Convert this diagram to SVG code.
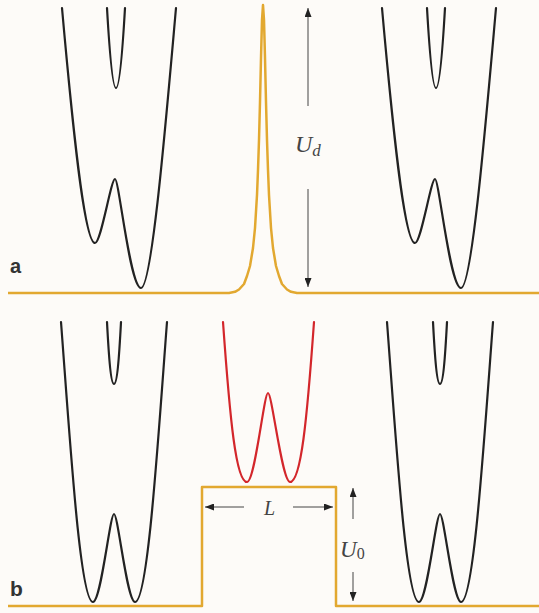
<svg xmlns="http://www.w3.org/2000/svg" width="539" height="613" viewBox="0 0 539 613">
<style>
.bg{fill:#fdfbf8}
.pot{fill:none;stroke:#222;stroke-width:2.2;stroke-linejoin:round;stroke-linecap:round}
.red{fill:none;stroke:#d3262b;stroke-width:2.2;stroke-linejoin:round;stroke-linecap:round}
.gold{fill:none;stroke:#e2a830;stroke-width:2.5;stroke-linejoin:round}
.arr{stroke:#444;stroke-width:1;fill:none}
.lab{font-family:"Liberation Serif",serif;font-style:italic;fill:#444}
.pl{font-family:"Liberation Sans",Arial,sans-serif;font-weight:bold;fill:#333}
</style>
<defs>
<marker id="ah" markerUnits="userSpaceOnUse" markerWidth="9" markerHeight="7" refX="9" refY="3.5" orient="auto">
<path d="M0,0 L9,3.5 L0,7 z" fill="#222"/>
</marker>
<path id="wellA" d="M62,8 C72,120 84,243 95,243 C101,243 111,179 115,179 C119,179 130,288 141,288 C152,288 166,120 176,8 M107,8 C110,60 113,88 116,88 C119,88 122,60 125,8"/>
<path id="wellB" d="M61,322 C70,440 80,602 93,602 C101,602 110,514 114,514 C118,514 127,602 135,602 C148,602 158,440 167,322 M107,322 C109,360 111,384 114,384 C117,384 119,360 121,322"/>
</defs>
<rect class="bg" x="0" y="0" width="539" height="613"/>

<g id="panel-a-left-potential"><use href="#wellA" class="pot"/></g>
<g id="panel-a-right-potential"><use href="#wellA" class="pot" transform="translate(320,0)"/></g>
<g id="panel-a-barrier">
<path class="gold" d="M8,293 L229,293 L235,291.8 L239,289.5 L244,284 L247,276 L250,266 L253,248 L255,228 L257,195 L258,170 L259,140 L260,102 L261,58 L262,20 L263,5 L264,20 L265,58 L266,102 L267,140 L268,170 L269,195 L271,228 L273,248 L276,266 L279,276 L282,284 L287,289.5 L291,291.8 L297,293 L539,293"/>
</g>
<g id="panel-b-left-potential"><use href="#wellB" class="pot"/></g>
<g id="panel-b-right-potential"><use href="#wellB" class="pot" transform="translate(326,0)"/></g>
<g id="panel-b-middle-potential">
<path class="red" d="M223,322 C230,420 236,482 247,482 C255,482 264,393 268,393 C272,393 282,482 290,482 C301,482 307,420 314,322"/>
</g>
<g id="panel-b-barrier">
<path class="gold" d="M8,606 L202,606 L202,487 L336,487 L336,606 L539,606"/>
</g>

<g id="connectors">
<line class="arr" x1="308" y1="106" x2="308" y2="8" marker-end="url(#ah)"/>
<line class="arr" x1="308" y1="189" x2="308" y2="287" marker-end="url(#ah)"/>
<line class="arr" x1="244" y1="507" x2="205" y2="507" marker-end="url(#ah)"/>
<line class="arr" x1="293" y1="507" x2="333" y2="507" marker-end="url(#ah)"/>
<line class="arr" x1="353" y1="519" x2="353" y2="488" marker-end="url(#ah)"/>
<line class="arr" x1="353" y1="572" x2="353" y2="601" marker-end="url(#ah)"/>
</g>

<g id="labels">
<text class="lab" x="295" y="152" font-size="24">U<tspan font-size="17" dy="4">d</tspan></text>
<text class="lab" x="264" y="515" font-size="20">L</text>
<text class="lab" x="340" y="557" font-size="23">U<tspan font-size="16" font-style="normal" dy="2">0</tspan></text>
<text class="pl" x="10" y="273" font-size="20">a</text>
<text class="pl" x="10" y="596" font-size="21">b</text>
</g>
</svg>
